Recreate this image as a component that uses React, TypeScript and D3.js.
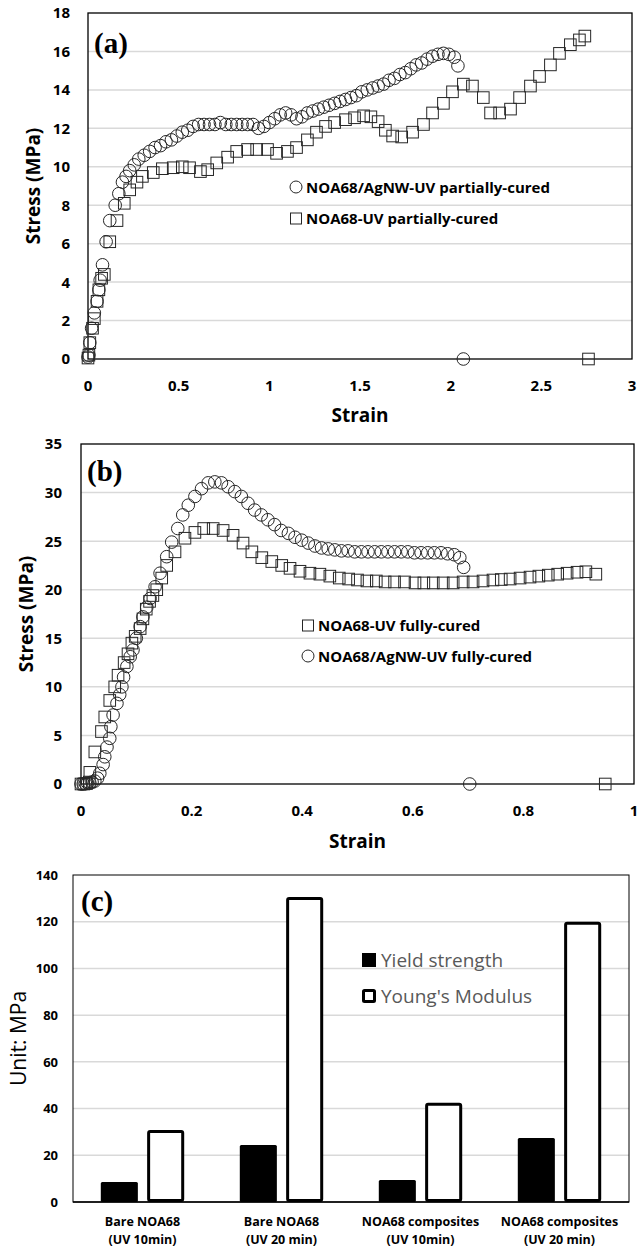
import React, { useRef, useEffect } from "react";
import * as d3 from "d3";

// ---- panel (a): partially-cured stress/strain ----
const aAgNW: [number, number][] = [
  [0, 0.1], [0.005, 0.2], [0.01, 0.85], [0.02, 1.6], [0.035, 2.4], [0.05, 3.0], [0.06, 3.6], [0.067, 4.1],
  [0.08, 4.9], [0.1, 6.1], [0.12, 7.2], [0.15, 8.0], [0.17, 8.6], [0.19, 9.2], [0.21, 9.5], [0.23, 9.8],
  [0.255, 10.1], [0.28, 10.4], [0.31, 10.6], [0.34, 10.8], [0.37, 11.0], [0.4, 11.1], [0.43, 11.3], [0.46, 11.4],
  [0.49, 11.6], [0.52, 11.8], [0.55, 11.9], [0.58, 12.1], [0.61, 12.2], [0.64, 12.2], [0.67, 12.2], [0.7, 12.2],
  [0.73, 12.3], [0.76, 12.2], [0.79, 12.2], [0.82, 12.2], [0.85, 12.2], [0.88, 12.2], [0.91, 12.2], [0.94, 12.0],
  [0.97, 12.1], [1.0, 12.3], [1.03, 12.5], [1.06, 12.7], [1.09, 12.8], [1.12, 12.7], [1.15, 12.5], [1.18, 12.6],
  [1.21, 12.8], [1.24, 12.9], [1.27, 13.0], [1.3, 13.1], [1.33, 13.2], [1.36, 13.3], [1.39, 13.4], [1.42, 13.5],
  [1.45, 13.6], [1.48, 13.7], [1.51, 13.9], [1.54, 14.0], [1.57, 14.1], [1.6, 14.2], [1.63, 14.3], [1.66, 14.5],
  [1.69, 14.6], [1.72, 14.8], [1.75, 14.9], [1.78, 15.1], [1.81, 15.3], [1.84, 15.4], [1.87, 15.6], [1.9, 15.75],
  [1.93, 15.85], [1.96, 15.9], [1.99, 15.85], [2.02, 15.7], [2.04, 15.25], [2.07, 0],
];
const aBare: [number, number][] = [
  [0, 0.05], [0.005, 0.2], [0.01, 0.85], [0.025, 1.6], [0.035, 2.1], [0.05, 3.0], [0.06, 3.6], [0.075, 4.2],
  [0.09, 4.4], [0.12, 6.1], [0.16, 7.2], [0.2, 8.1], [0.23, 8.8], [0.27, 9.2], [0.3, 9.5], [0.36, 9.7],
  [0.41, 9.9], [0.47, 9.95], [0.52, 10.0], [0.56, 9.95], [0.62, 9.75], [0.66, 9.85], [0.71, 10.2], [0.77, 10.5],
  [0.82, 10.8], [0.88, 10.9], [0.93, 10.9], [0.99, 10.9], [1.04, 10.7], [1.1, 10.8], [1.15, 11.0], [1.21, 11.4],
  [1.26, 11.8], [1.31, 12.1], [1.36, 12.3], [1.42, 12.45], [1.47, 12.55], [1.52, 12.65], [1.56, 12.6], [1.6, 12.35],
  [1.64, 11.9], [1.68, 11.6], [1.73, 11.55], [1.79, 11.8], [1.85, 12.2], [1.9, 12.8], [1.96, 13.3], [2.01, 13.9],
  [2.07, 14.3], [2.12, 14.2], [2.18, 13.6], [2.22, 12.8], [2.27, 12.8], [2.33, 13.0], [2.38, 13.6], [2.44, 14.2],
  [2.49, 14.7], [2.55, 15.3], [2.6, 15.9], [2.66, 16.35], [2.71, 16.6], [2.74, 16.8], [2.76, 0],
];
const aXTicks = [0, 0.5, 1, 1.5, 2, 2.5, 3];
const aYTicks = [0, 2, 4, 6, 8, 10, 12, 14, 16, 18];

// ---- panel (b): fully-cured stress/strain ----
const bAgNW: [number, number][] = [
  [0, 0], [0.004, 0], [0.008, 0.05], [0.012, 0.1], [0.016, 0.1], [0.02, 0.2], [0.025, 0.3], [0.03, 0.6],
  [0.034, 1.1], [0.04, 2.0], [0.043, 2.8], [0.047, 3.8], [0.052, 4.7], [0.054, 5.9], [0.058, 7.1], [0.065, 8.3],
  [0.07, 9.2], [0.074, 10.0], [0.077, 11.0], [0.083, 12.1], [0.089, 13.1], [0.094, 13.8], [0.1, 15.0], [0.107, 16.2],
  [0.112, 17.2], [0.119, 18.2], [0.125, 19.1], [0.134, 20.3], [0.143, 21.7], [0.155, 23.4], [0.164, 24.9], [0.175, 26.3],
  [0.184, 27.7], [0.194, 28.7], [0.206, 29.6], [0.218, 30.4], [0.23, 31.0], [0.242, 31.1], [0.254, 31.0], [0.266, 30.6],
  [0.278, 30.1], [0.29, 29.6], [0.302, 28.9], [0.314, 28.2], [0.326, 27.7], [0.338, 27.2], [0.35, 26.7], [0.362, 26.1],
  [0.375, 25.8], [0.387, 25.4], [0.399, 25.1], [0.411, 24.8], [0.423, 24.5], [0.435, 24.3], [0.447, 24.2], [0.459, 24.1],
  [0.471, 24.0], [0.483, 24.0], [0.495, 23.9], [0.507, 23.9], [0.519, 23.9], [0.531, 23.9], [0.543, 23.9], [0.555, 23.9],
  [0.567, 23.9], [0.579, 23.9], [0.591, 23.9], [0.603, 23.8], [0.615, 23.8], [0.627, 23.8], [0.639, 23.8], [0.651, 23.8],
  [0.663, 23.7], [0.675, 23.6], [0.685, 23.3], [0.692, 22.3], [0.703, 0],
];
const bBare: [number, number][] = [
  [0, 0], [0.005, 0], [0.01, 0.05], [0.015, 0.2], [0.016, 1.2], [0.025, 3.3], [0.037, 5.4], [0.043, 6.9],
  [0.052, 8.6], [0.061, 10.0], [0.067, 11.2], [0.078, 12.5], [0.085, 13.4], [0.092, 14.5], [0.098, 15.2], [0.107, 16.0],
  [0.112, 17.0], [0.118, 18.0], [0.124, 18.8], [0.13, 19.4], [0.137, 20.0], [0.146, 21.2], [0.155, 22.5], [0.17, 23.9],
  [0.188, 25.3], [0.206, 25.9], [0.222, 26.3], [0.239, 26.3], [0.257, 26.1], [0.275, 25.6], [0.293, 24.8], [0.309, 23.9],
  [0.327, 23.3], [0.345, 22.9], [0.363, 22.5], [0.378, 22.2], [0.396, 21.9], [0.414, 21.7], [0.432, 21.6], [0.45, 21.4],
  [0.467, 21.2], [0.484, 21.1], [0.5, 21.0], [0.517, 20.9], [0.534, 20.9], [0.55, 20.8], [0.567, 20.8], [0.585, 20.8],
  [0.604, 20.7], [0.62, 20.7], [0.637, 20.7], [0.655, 20.7], [0.673, 20.7], [0.691, 20.8], [0.709, 20.8], [0.727, 20.9],
  [0.745, 21.0], [0.76, 21.05], [0.776, 21.1], [0.794, 21.2], [0.812, 21.3], [0.828, 21.4], [0.845, 21.5], [0.862, 21.6],
  [0.879, 21.7], [0.897, 21.8], [0.913, 21.85], [0.931, 21.6], [0.948, 0],
];
const bXTicks = [0, 0.2, 0.4, 0.6, 0.8, 1];
const bYTicks = [0, 5, 10, 15, 20, 25, 30, 35];

// ---- panel (c): bar chart ----
const cCatLine1 = ["Bare NOA68", "Bare NOA68", "NOA68 composites", "NOA68 composites"];
const cCatLine2 = ["(UV 10min)", "(UV 20 min)", "(UV 10min)", "(UV 20 min)"];
const cYield = [8.6, 24.4, 9.4, 27.4];
const cYoung = [30.8, 130.6, 42.5, 120];
const cYTicks = [0, 20, 40, 60, 80, 100, 120, 140];

const FONT = "'Open Sans', sans-serif";
const SERIF = "'Liberation Serif', 'Times New Roman', serif";
const GRID = "#d9d9d9";
const MARK = "#262626";

type Box = { left: number; top: number; right: number; bottom: number };

function scatterPanel(
  svg: d3.Selection<SVGSVGElement, unknown, null, undefined>,
  box: Box,
  xTicks: number[],
  yTicks: number[],
  series: { data: [number, number][]; shape: "circle" | "square" }[],
  o: { label: string; labelY: number; yLabX: number; xLabY: number; xTitleY: number; yTitleX: number }
) {
  const x = d3.scaleLinear().domain([xTicks[0], xTicks[xTicks.length - 1]]).range([box.left, box.right]);
  const y = d3.scaleLinear().domain([yTicks[0], yTicks[yTicks.length - 1]]).range([box.bottom, box.top]);
  const g = svg.append("g");

  g.selectAll(".grid")
    .data(yTicks.slice(1, -1))
    .join("line")
    .attr("x1", box.left)
    .attr("x2", box.right)
    .attr("y1", (d) => y(d))
    .attr("y2", (d) => y(d))
    .attr("stroke", GRID)
    .attr("stroke-width", 1.5);

  g.append("rect")
    .attr("x", box.left)
    .attr("y", box.top)
    .attr("width", box.right - box.left)
    .attr("height", box.bottom - box.top)
    .attr("fill", "none")
    .attr("stroke", "#000")
    .attr("stroke-width", 1.3);

  g.selectAll(".ytl")
    .data(yTicks)
    .join("text")
    .attr("x", o.yLabX)
    .attr("y", (d) => y(d))
    .attr("dy", "0.36em")
    .attr("text-anchor", "end")
    .attr("font-family", FONT)
    .attr("font-weight", 700)
    .attr("font-size", 15)
    .text((d) => String(d));

  g.selectAll(".xtl")
    .data(xTicks)
    .join("text")
    .attr("x", (d) => x(d))
    .attr("y", o.xLabY)
    .attr("text-anchor", "middle")
    .attr("font-family", FONT)
    .attr("font-weight", 700)
    .attr("font-size", 15)
    .text((d) => String(d));

  g.append("text")
    .attr("x", (box.left + box.right) / 2)
    .attr("y", o.xTitleY)
    .attr("text-anchor", "middle")
    .attr("font-family", FONT)
    .attr("font-weight", 700)
    .attr("font-size", 19)
    .text("Strain");

  g.append("text")
    .attr("transform", `translate(${o.yTitleX},${(box.top + box.bottom) / 2}) rotate(-90)`)
    .attr("text-anchor", "middle")
    .attr("dy", "0.36em")
    .attr("font-family", FONT)
    .attr("font-weight", 700)
    .attr("font-size", 19)
    .text("Stress (MPa)");

  g.append("text")
    .attr("x", box.left + 6)
    .attr("y", o.labelY)
    .attr("font-family", SERIF)
    .attr("font-weight", 700)
    .attr("font-size", 29)
    .text(o.label);

  series.forEach((s) => {
    if (s.shape === "circle") {
      g.append("g")
        .selectAll("circle")
        .data(s.data)
        .join("circle")
        .attr("cx", (d) => x(d[0]))
        .attr("cy", (d) => y(d[1]))
        .attr("r", 6.3)
        .attr("fill", "none")
        .attr("stroke", MARK)
        .attr("stroke-width", 1);
    } else {
      g.append("g")
        .selectAll("rect")
        .data(s.data)
        .join("rect")
        .attr("x", (d) => x(d[0]) - 5.8)
        .attr("y", (d) => y(d[1]) - 5.8)
        .attr("width", 11.6)
        .attr("height", 11.6)
        .attr("fill", "none")
        .attr("stroke", MARK)
        .attr("stroke-width", 1);
    }
  });
  return g;
}

function legendItem(
  g: d3.Selection<SVGGElement, unknown, null, undefined>,
  shape: "circle" | "square",
  cx: number,
  cy: number,
  text: string
) {
  if (shape === "circle") {
    g.append("circle").attr("cx", cx).attr("cy", cy).attr("r", 6).attr("fill", "none").attr("stroke", MARK);
  } else {
    g.append("rect")
      .attr("x", cx - 5.5)
      .attr("y", cy - 5.5)
      .attr("width", 11)
      .attr("height", 11)
      .attr("fill", "none")
      .attr("stroke", MARK);
  }
  g.append("text")
    .attr("x", cx + 10)
    .attr("y", cy + 5.5)
    .attr("font-family", FONT)
    .attr("font-weight", 700)
    .attr("font-size", 15)
    .text(text);
}

const App = () => {
  const svgRef = useRef<SVGSVGElement>(null);

  useEffect(() => {
    const svg = d3.select(svgRef.current as SVGSVGElement);
    svg.selectAll("*").remove();

    // (a)
    const ga = scatterPanel(
      svg,
      { left: 88, top: 13, right: 632, bottom: 359 },
      aXTicks,
      aYTicks,
      [
        { data: aBare, shape: "square" },
        { data: aAgNW, shape: "circle" },
      ],
      { label: "(a)", labelY: 53, yLabX: 70, xLabY: 391, xTitleY: 422, yTitleX: 33 }
    );
    legendItem(ga, "circle", 296, 187, "NOA68/AgNW-UV partially-cured");
    legendItem(ga, "square", 296, 218.5, "NOA68-UV partially-cured");

    // (b)
    const gb = scatterPanel(
      svg,
      { left: 81, top: 444, right: 634, bottom: 784 },
      bXTicks,
      bYTicks,
      [
        { data: bBare, shape: "square" },
        { data: bAgNW, shape: "circle" },
      ],
      { label: "(b)", labelY: 481, yLabX: 62, xLabY: 816, xTitleY: 848, yTitleX: 26 }
    );
    legendItem(gb, "square", 308, 625.5, "NOA68-UV fully-cured");
    legendItem(gb, "circle", 308, 656, "NOA68/AgNW-UV fully-cured");

    // (c)
    const box = { left: 73, top: 875, right: 629, bottom: 1202 };
    const gc = svg.append("g");
    const y = d3.scaleLinear().domain([0, 140]).range([box.bottom, box.top]);
    const cats = d3.range(cCatLine1.length);
    const x0 = d3
      .scaleBand<number>()
      .domain(cats)
      .range([box.left, box.right])
      .paddingInner(0.4)
      .paddingOuter(0.2);
    const x1 = d3.scaleBand<string>().domain(["yield", "young"]).range([0, x0.bandwidth()]).paddingInner(0.2);

    gc.selectAll(".grid")
      .data(cYTicks.slice(1, -1))
      .join("line")
      .attr("x1", box.left)
      .attr("x2", box.right)
      .attr("y1", (d) => y(d))
      .attr("y2", (d) => y(d))
      .attr("stroke", GRID)
      .attr("stroke-width", 1.5);

    gc.append("rect")
      .attr("x", box.left)
      .attr("y", box.top)
      .attr("width", box.right - box.left)
      .attr("height", box.bottom - box.top)
      .attr("fill", "none")
      .attr("stroke", "#000")
      .attr("stroke-width", 1);

    gc.selectAll(".yb")
      .data(cats)
      .join("rect")
      .attr("x", (i) => (x0(i) as number) + (x1("yield") as number))
      .attr("y", (i) => y(cYield[i]))
      .attr("width", x1.bandwidth())
      .attr("height", (i) => y(0) - y(cYield[i]))
      .attr("rx", 1.5)
      .attr("fill", "#000");

    gc.selectAll(".ym")
      .data(cats)
      .join("rect")
      .attr("x", (i) => (x0(i) as number) + (x1("young") as number) + 1.5)
      .attr("y", (i) => y(cYoung[i]) + 1.5)
      .attr("width", x1.bandwidth() - 3)
      .attr("height", (i) => y(0) - y(cYoung[i]) - 3)
      .attr("rx", 1.5)
      .attr("fill", "#fff")
      .attr("stroke", "#000")
      .attr("stroke-width", 3);

    gc.append("line")
      .attr("x1", box.left)
      .attr("x2", box.right)
      .attr("y1", box.bottom)
      .attr("y2", box.bottom)
      .attr("stroke", "#000")
      .attr("stroke-width", 1.5);

    gc.selectAll(".ytl")
      .data(cYTicks)
      .join("text")
      .attr("x", 58)
      .attr("y", (d) => y(d))
      .attr("dy", "0.36em")
      .attr("text-anchor", "end")
      .attr("font-family", FONT)
      .attr("font-weight", 700)
      .attr("font-size", 13)
      .text((d) => String(d));

    cats.forEach((i) => {
      const cx = (x0(i) as number) + x0.bandwidth() / 2;
      gc.append("text")
        .attr("x", cx)
        .attr("y", 1226)
        .attr("text-anchor", "middle")
        .attr("font-family", FONT)
        .attr("font-weight", 700)
        .attr("font-size", 12.5)
        .text(cCatLine1[i]);
      gc.append("text")
        .attr("x", cx)
        .attr("y", 1244)
        .attr("text-anchor", "middle")
        .attr("font-family", FONT)
        .attr("font-weight", 700)
        .attr("font-size", 12.5)
        .text(cCatLine2[i]);
    });

    gc.append("text")
      .attr("transform", `translate(18,${(box.top + box.bottom) / 2}) rotate(-90)`)
      .attr("text-anchor", "middle")
      .attr("dy", "0.36em")
      .attr("font-family", FONT)
      .attr("font-size", 21)
      .attr("fill", "#000")
      .text("Unit: MPa");

    gc.append("text")
      .attr("x", box.left + 8)
      .attr("y", 911)
      .attr("font-family", SERIF)
      .attr("font-weight", 700)
      .attr("font-size", 29)
      .text("(c)");

    // legend (c)
    gc.append("rect").attr("x", 362).attr("y", 953).attr("width", 14).attr("height", 14).attr("fill", "#000");
    gc.append("rect")
      .attr("x", 363.5)
      .attr("y", 990.5)
      .attr("width", 11)
      .attr("height", 11)
      .attr("rx", 1)
      .attr("fill", "#fff")
      .attr("stroke", "#000")
      .attr("stroke-width", 3);
    gc.append("text")
      .attr("x", 381)
      .attr("y", 967)
      .attr("font-family", FONT)
      .attr("font-size", 19)
      .attr("fill", "#595959")
      .text("Yield strength");
    gc.append("text")
      .attr("x", 381)
      .attr("y", 1003)
      .attr("font-family", FONT)
      .attr("font-size", 19)
      .attr("fill", "#595959")
      .text("Young's Modulus");
  }, []);

  return (
    <svg
      ref={svgRef}
      width={638}
      height={1247}
      style={{ position: "absolute", left: 0, top: 0, background: "#fff" }}
    />
  );
};

export default App;
